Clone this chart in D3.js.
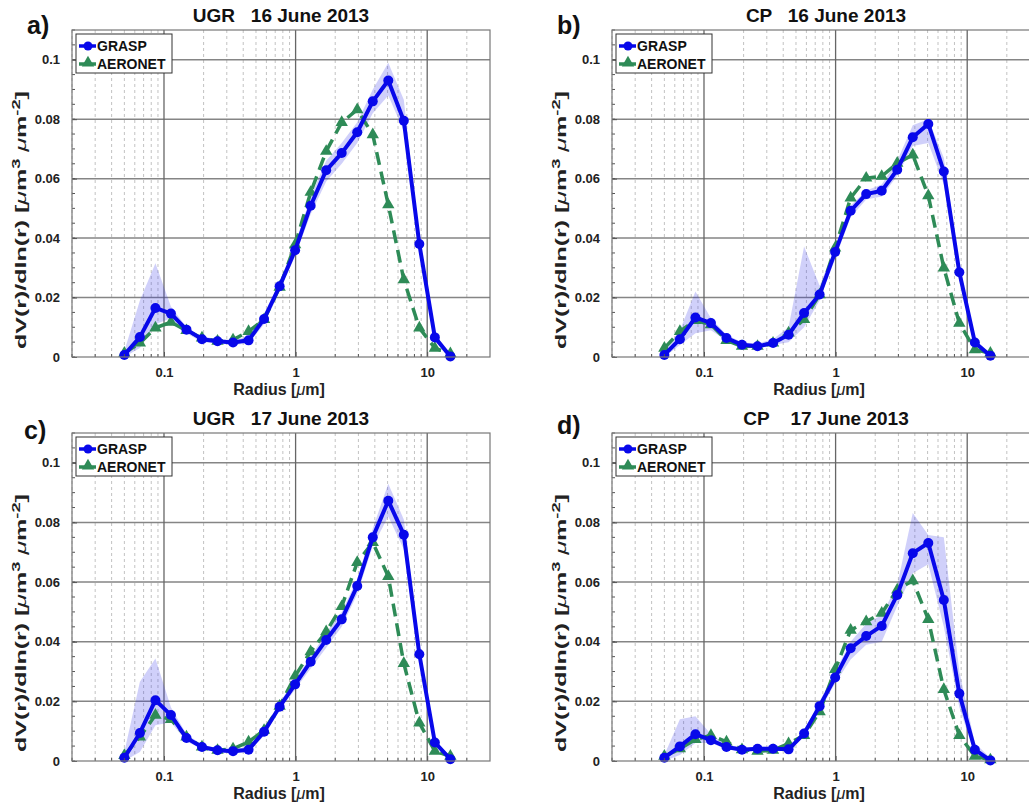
<!DOCTYPE html>
<html>
<head>
<meta charset="utf-8">
<script src="https://cdn.jsdelivr.net/npm/d3@7"></script>
<style>
  html, body { margin: 0; padding: 0; background: #fff; }
  svg { display: block; font-family: "Liberation Sans", Arial, sans-serif; }
</style>
</head>
<body>
<svg id="chart" width="1029" height="803"></svg>
<script>
// Radius bins [µm] shared by both retrievals
const radius = [0.05, 0.0656, 0.0861, 0.1129, 0.1482, 0.1944, 0.2551, 0.3347, 0.4392, 0.5762, 0.7561,
                0.9920, 1.3016, 1.7078, 2.2407, 2.9400, 3.8575, 5.0613, 6.6407, 8.7131, 11.4323, 15.0];

// a) UGR 16 June 2013
const graspA   = [0.0007, 0.0067, 0.0165, 0.0146, 0.0092, 0.0060, 0.0053, 0.0049, 0.0056, 0.0128, 0.0238,
                  0.0359, 0.0509, 0.0628, 0.0686, 0.0756, 0.0860, 0.0930, 0.0795, 0.0380, 0.0066, 0.0002];
const aeronetA = [0.0013, 0.0047, 0.0098, 0.0117, 0.0089, 0.0064, 0.0053, 0.0058, 0.0086, 0.0126, 0.0235,
                  0.0378, 0.0554, 0.0692, 0.0789, 0.0832, 0.0748, 0.0512, 0.0260, 0.0098, 0.0030, 0.0011];
const graspLoA = [0.0000, 0.0030, 0.0110, 0.0130, 0.0080, 0.0050, 0.0045, 0.0040, 0.0045, 0.0110, 0.0220,
                  0.0340, 0.0480, 0.0590, 0.0650, 0.0720, 0.0820, 0.0880, 0.0760, 0.0360, 0.0055, 0.0000];
const graspHiA = [0.0020, 0.0190, 0.0315, 0.0170, 0.0100, 0.0070, 0.0060, 0.0058, 0.0068, 0.0145, 0.0255,
                  0.0380, 0.0540, 0.0660, 0.0720, 0.0790, 0.0900, 0.0990, 0.0865, 0.0400, 0.0080, 0.0005];

// b) CP 16 June 2013
const graspB   = [0.0007, 0.0060, 0.0133, 0.0114, 0.0064, 0.0041, 0.0036, 0.0047, 0.0075, 0.0148, 0.0210,
                  0.0353, 0.0492, 0.0548, 0.0559, 0.0630, 0.0739, 0.0784, 0.0624, 0.0285, 0.0049, 0.0004];
const aeronetB = [0.0030, 0.0086, 0.0123, 0.0109, 0.0056, 0.0036, 0.0036, 0.0047, 0.0081, 0.0126, 0.0210,
                  0.0367, 0.0535, 0.0602, 0.0608, 0.0652, 0.0680, 0.0543, 0.0300, 0.0114, 0.0025, 0.0013];
const graspLoB = [0.0000, 0.0040, 0.0080, 0.0090, 0.0055, 0.0035, 0.0030, 0.0040, 0.0050, 0.0100, 0.0190,
                  0.0330, 0.0470, 0.0530, 0.0540, 0.0610, 0.0710, 0.0720, 0.0580, 0.0260, 0.0040, 0.0000];
const graspHiB = [0.0020, 0.0090, 0.0220, 0.0130, 0.0075, 0.0050, 0.0045, 0.0060, 0.0100, 0.0372, 0.0240,
                  0.0370, 0.0510, 0.0560, 0.0580, 0.0660, 0.0780, 0.0800, 0.0670, 0.0310, 0.0060, 0.0010];

// c) UGR 17 June 2013
const graspC   = [0.0011, 0.0094, 0.0204, 0.0154, 0.0077, 0.0047, 0.0036, 0.0033, 0.0038, 0.0098, 0.0182,
                  0.0257, 0.0333, 0.0406, 0.0475, 0.0587, 0.0750, 0.0873, 0.0759, 0.0358, 0.0062, 0.0006];
const aeronetC = [0.0019, 0.0081, 0.0154, 0.0139, 0.0081, 0.0047, 0.0036, 0.0041, 0.0064, 0.0103, 0.0184,
                  0.0285, 0.0367, 0.0434, 0.0518, 0.0666, 0.0733, 0.0619, 0.0327, 0.0128, 0.0033, 0.0016];
const graspLoC = [0.0000, 0.0030, 0.0120, 0.0130, 0.0065, 0.0040, 0.0030, 0.0028, 0.0030, 0.0085, 0.0170,
                  0.0240, 0.0310, 0.0380, 0.0450, 0.0560, 0.0720, 0.0820, 0.0710, 0.0330, 0.0050, 0.0000];
const graspHiC = [0.0030, 0.0266, 0.0344, 0.0180, 0.0090, 0.0055, 0.0043, 0.0040, 0.0045, 0.0110, 0.0195,
                  0.0275, 0.0350, 0.0430, 0.0500, 0.0610, 0.0780, 0.0930, 0.0810, 0.0390, 0.0075, 0.0010];

// d) CP 17 June 2013
const graspD   = [0.0011, 0.0049, 0.0090, 0.0070, 0.0047, 0.0038, 0.0041, 0.0041, 0.0039, 0.0092, 0.0184,
                  0.0280, 0.0378, 0.0419, 0.0453, 0.0557, 0.0697, 0.0731, 0.0540, 0.0226, 0.0038, 0.0002];
const aeronetD = [0.0016, 0.0041, 0.0072, 0.0086, 0.0064, 0.0038, 0.0033, 0.0036, 0.0058, 0.0086, 0.0165,
                  0.0307, 0.0439, 0.0467, 0.0496, 0.0574, 0.0605, 0.0475, 0.0240, 0.0086, 0.0016, 0.0004];
const graspLoD = [0.0000, 0.0020, 0.0060, 0.0060, 0.0040, 0.0032, 0.0035, 0.0035, 0.0033, 0.0085, 0.0170,
                  0.0260, 0.0340, 0.0390, 0.0400, 0.0520, 0.0630, 0.0660, 0.0450, 0.0180, 0.0020, 0.0000];
const graspHiD = [0.0020, 0.0140, 0.0150, 0.0090, 0.0055, 0.0045, 0.0048, 0.0048, 0.0046, 0.0100, 0.0200,
                  0.0300, 0.0400, 0.0460, 0.0490, 0.0590, 0.0832, 0.0758, 0.0750, 0.0300, 0.0060, 0.0010];

// Axis ticks and labels
const xTicks = [0.1, 1, 10];
const xTickLabels = ["0.1", "1", "10"];
const yTicks = [0, 0.02, 0.04, 0.06, 0.08, 0.1];
const yTickLabels = ["0", "0.02", "0.04", "0.06", "0.08", "0.1"];
const xMinor = [0.02,0.03,0.04,0.05,0.06,0.07,0.08,0.09, 0.2,0.3,0.4,0.5,0.6,0.7,0.8,0.9,
                2,3,4,5,6,7,8,9, 20];
const yMinor = d3.range(0, 0.1101, 0.005);

const seriesNames = ["GRASP", "AERONET"];
const panelLetters = ["a)", "b)", "c)", "d)"];
const panelTitles = ["UGR   16 June 2013", "CP   16 June 2013", "UGR   17 June 2013", "CP    17 June 2013"];

const COLOR_GRASP = "#0808ea";
const COLOR_AERONET = "#2e8b57";
const FONT = "Liberation Sans, Arial, sans-serif";

const panels = [
  { letter: panelLetters[0], title: panelTitles[0], grasp: graspA, aeronet: aeronetA, lo: graspLoA, hi: graspHiA,
    box: { left: 72, right: 490, top: 30, bottom: 357 }, letterPos: [27, 34] },
  { letter: panelLetters[1], title: panelTitles[1], grasp: graspB, aeronet: aeronetB, lo: graspLoB, hi: graspHiB,
    box: { left: 612, right: 1030, top: 30, bottom: 357 }, letterPos: [557, 34] },
  { letter: panelLetters[2], title: panelTitles[2], grasp: graspC, aeronet: aeronetC, lo: graspLoC, hi: graspHiC,
    box: { left: 72, right: 490, top: 433, bottom: 761 }, letterPos: [24, 439] },
  { letter: panelLetters[3], title: panelTitles[3], grasp: graspD, aeronet: aeronetD, lo: graspLoD, hi: graspHiD,
    box: { left: 612, right: 1030, top: 433, bottom: 761 }, letterPos: [557, 434] }
];

const svg = d3.select("#chart");

function drawPanel(p, idx) {
  const b = p.box;
  const x = d3.scaleLog().domain([0.02, 30]).range([b.left, b.right]);
  const y = d3.scaleLinear().domain([0, 0.11]).range([b.bottom, b.top]);
  const g = svg.append("g").attr("class", "panel");

  g.append("rect").attr("x", b.left).attr("y", b.top)
    .attr("width", b.right - b.left).attr("height", b.bottom - b.top).attr("fill", "#fff");

  // minor vertical grid
  g.append("g").selectAll("line").data(xMinor).join("line")
    .attr("x1", d => x(d)).attr("x2", d => x(d))
    .attr("y1", b.top).attr("y2", b.bottom)
    .attr("stroke", "#c2c2c2").attr("stroke-width", 1).attr("stroke-dasharray", "3,3");

  // major grid
  g.append("g").selectAll("line").data(yTicks.slice(1)).join("line")
    .attr("x1", b.left).attr("x2", b.right)
    .attr("y1", d => y(d)).attr("y2", d => y(d))
    .attr("stroke", "#858585").attr("stroke-width", 1.5);
  g.append("g").selectAll("line").data(xTicks).join("line")
    .attr("x1", d => x(d)).attr("x2", d => x(d))
    .attr("y1", b.top).attr("y2", b.bottom)
    .attr("stroke", "#666").attr("stroke-width", 1.3);

  // GRASP uncertainty band
  const idxs = d3.range(radius.length);
  const band = d3.area()
    .x(i => x(radius[i])).y0(i => y(p.lo[i])).y1(i => y(p.hi[i]));
  g.append("path").attr("d", band(idxs))
    .attr("fill", "#2a2ae6").attr("fill-opacity", 0.22);

  const line = d3.line().x(i => x(radius[i]));

  // AERONET
  g.append("path").attr("d", line.y(i => y(p.aeronet[i]))(idxs))
    .attr("fill", "none").attr("stroke", COLOR_AERONET).attr("stroke-width", 3.5)
    .attr("stroke-dasharray", "13,7");
  const tri = d3.symbol().type(d3.symbolTriangle).size(66);
  g.append("g").selectAll("path").data(idxs).join("path")
    .attr("d", tri)
    .attr("transform", i => `translate(${x(radius[i])},${y(p.aeronet[i])})`)
    .attr("fill", COLOR_AERONET);

  // GRASP
  g.append("path").attr("d", line.y(i => y(p.grasp[i]))(idxs))
    .attr("fill", "none").attr("stroke", COLOR_GRASP).attr("stroke-width", 4)
    .attr("stroke-linejoin", "round");
  g.append("g").selectAll("circle").data(idxs).join("circle")
    .attr("cx", i => x(radius[i])).attr("cy", i => y(p.grasp[i])).attr("r", 5)
    .attr("fill", COLOR_GRASP);

  // axes (ticks inward)
  const xAxis = d3.axisBottom(x).tickValues(xTicks).tickFormat((d, i) => xTickLabels[i])
    .tickSizeInner(-5).tickSizeOuter(0).tickPadding(11);
  const gx = g.append("g").attr("transform", `translate(0,${b.bottom})`).call(xAxis);
  gx.select(".domain").remove();
  gx.selectAll(".tick line").attr("stroke", "#555");
  gx.selectAll(".tick text").attr("font-size", 13).attr("font-weight", "bold")
    .attr("fill", "#222").attr("font-family", FONT);

  const yAxis = d3.axisLeft(y).tickValues(yTicks).tickFormat((d, i) => yTickLabels[i])
    .tickSizeInner(-5).tickSizeOuter(0).tickPadding(12);
  const gy = g.append("g").attr("transform", `translate(${b.left},0)`).call(yAxis);
  gy.select(".domain").remove();
  gy.selectAll(".tick line").attr("stroke", "#555");
  gy.selectAll(".tick text").attr("font-size", 13).attr("font-weight", "bold")
    .attr("fill", "#222").attr("font-family", FONT);

  // minor ticks
  g.append("g").selectAll("line").data(yMinor).join("line")
    .attr("x1", b.left).attr("x2", b.left + 3)
    .attr("y1", d => y(d)).attr("y2", d => y(d)).attr("stroke", "#555");
  g.append("g").selectAll("line").data(xMinor).join("line")
    .attr("x1", d => x(d)).attr("x2", d => x(d))
    .attr("y1", b.bottom).attr("y2", b.bottom - 3).attr("stroke", "#555");

  // frame
  g.append("rect").attr("x", b.left).attr("y", b.top)
    .attr("width", b.right - b.left).attr("height", b.bottom - b.top)
    .attr("fill", "none").attr("stroke", "#777").attr("stroke-width", 1.2);

  // axis labels
  const xl = g.append("text")
    .attr("x", (b.left + b.right) / 2 - 2).attr("y", b.bottom + 38)
    .attr("text-anchor", "middle").attr("font-size", 16).attr("font-weight", "bold").attr("fill", "#222");
  xl.append("tspan").text("Radius [");
  xl.append("tspan").attr("font-weight", "normal").attr("font-style", "italic").text("\u03bc");
  xl.append("tspan").text("m]");

  // y label: long rotated label, stretched along its baseline to span the axis
  const ycx = b.left - 46, ycy = b.top + 190;
  const ylg = g.append("g").attr("transform", `translate(${ycx},${ycy}) rotate(-90)`);
  const yl = ylg.append("text")
    .attr("text-anchor", "middle").attr("font-size", 15).attr("font-weight", "bold").attr("fill", "#222");
  yl.append("tspan").text("dV(r)/dln(r) [");
  yl.append("tspan").attr("font-weight", "normal").attr("font-style", "italic").text("\u03bc");
  yl.append("tspan").text("m");
  yl.append("tspan").attr("dy", -6).attr("font-size", 11).text("3");
  yl.append("tspan").attr("dy", 6).attr("font-weight", "normal").attr("font-style", "italic").text(" \u03bc");
  yl.append("tspan").text("m");
  yl.append("tspan").attr("dy", -6).attr("font-size", 11).text("-2");
  yl.append("tspan").attr("dy", 6).text("]");
  const natural = yl.node().getComputedTextLength();
  const targetLen = 258;
  if (natural > 0) yl.attr("transform", `scale(${targetLen / natural},1)`);

  // title and panel letter
  g.append("text").attr("x", (b.left + b.right) / 2 + (idx % 2 ? 5 : 0)).attr("y", b.top - 8)
    .attr("text-anchor", "middle").attr("font-size", 19).attr("font-weight", "bold")
    .style("white-space", "pre").attr("fill", "#111").text(p.title);
  g.append("text").attr("x", p.letterPos[0]).attr("y", p.letterPos[1])
    .attr("font-size", 25).attr("font-weight", "bold").attr("fill", "#111").text(p.letter);

  // legend
  const lx = b.left + 4, ly = b.top + 4;
  const lg = g.append("g");
  lg.append("rect").attr("x", lx).attr("y", ly).attr("width", 96).attr("height", 39)
    .attr("fill", "#fff").attr("stroke", "#333").attr("stroke-width", 1);
  const rows = [
    { name: seriesNames[0], color: COLOR_GRASP, cy: ly + 12 },
    { name: seriesNames[1], color: COLOR_AERONET, cy: ly + 30 }
  ];
  rows.forEach((r, k) => {
    lg.append("line").attr("x1", lx + 3).attr("x2", lx + 20).attr("y1", r.cy).attr("y2", r.cy)
      .attr("stroke", r.color).attr("stroke-width", 3.5);
    if (k === 0) {
      lg.append("circle").attr("cx", lx + 12).attr("cy", r.cy).attr("r", 4.5).attr("fill", r.color);
    } else {
      lg.append("path").attr("d", tri).attr("transform", `translate(${lx + 12},${r.cy - 1})`).attr("fill", r.color);
    }
    lg.append("text").attr("x", lx + 21).attr("y", r.cy + 5)
      .attr("font-size", 14).attr("font-weight", "bold").attr("fill", "#111").text(r.name);
  });
}

panels.forEach(drawPanel);
</script>
</body>
</html>
